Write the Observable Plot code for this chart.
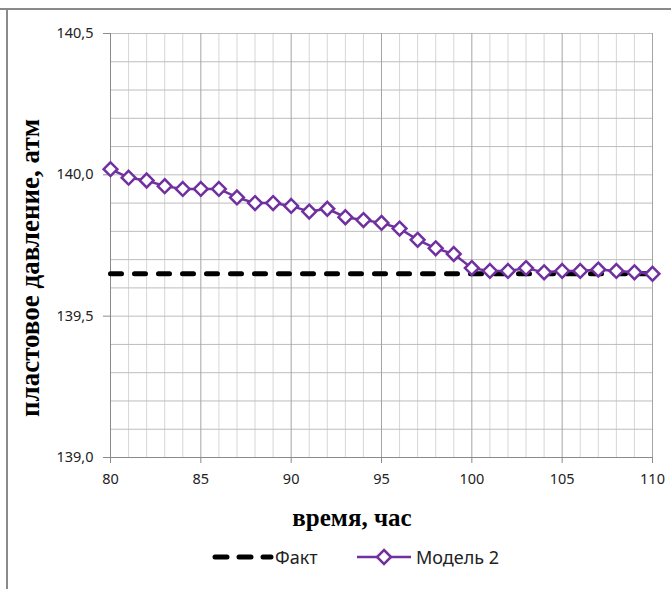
<!DOCTYPE html>
<html>
<head>
<meta charset="utf-8">
<script src="https://cdn.jsdelivr.net/npm/d3@7"></script>
<script src="https://cdn.jsdelivr.net/npm/@observablehq/plot@0.6"></script>
<style>
  html, body { margin: 0; padding: 0; background: #fff; }
  #wrap { position: relative; width: 671px; height: 589px; overflow: hidden; background: #fff; }
  #chart { position: absolute; left: 0; top: 0; }
  .bt { position: absolute; left: 0; top: 8px; width: 671px; height: 2px; background: #8a8a8a; }
  .bl { position: absolute; left: 6px; top: 8px; width: 2px; height: 581px; background: #8a8a8a; }
  .ttl { position: absolute; font-family: "Liberation Serif", serif; font-weight: bold; color: #000; white-space: nowrap; line-height: 1; }
  #xlab { left: 352px; top: 517px; font-size: 25px; transform: translate(-50%, -50%); }
  #ylab { left: 30px; top: 268px; font-size: 27px; transform: translate(-50%, -50%) rotate(-90deg); }
  #legend { position: absolute; top: 545px; left: 0; width: 671px; height: 26px; font-family: "Noto Sans", sans-serif; font-size: 18px; color: #222; }
  #legend svg { position: absolute; left: 0; top: 0; }
  #legend span { position: absolute; top: 0px; line-height: 24px; }
</style>
</head>
<body>
<div id="wrap">
  <div id="chart"></div>
  <div class="bt"></div>
  <div class="bl"></div>
  <div class="ttl" id="xlab"></div>
  <div class="ttl" id="ylab"></div>
  <div id="legend">
    <svg width="671" height="24">
      <line x1="215" y1="12" x2="271" y2="12" stroke="#000" stroke-width="5" stroke-dasharray="12,12" stroke-linecap="round"/>
      <line x1="357" y1="12" x2="411" y2="12" stroke="#7030A0" stroke-width="2.5"/>
      <path d="M384,5 L391,12 L384,19 L377,12 Z" fill="#fff" stroke="#7030A0" stroke-width="2.5"/>
    </svg>
    <span style="left:275px" id="lg1"></span>
    <span style="left:416px" id="lg2"></span>
  </div>
</div>
<script>
const hours = d3.range(80, 111);
const fakt = [139.65,139.65,139.65,139.65,139.65,139.65,139.65,139.65,139.65,139.65,139.65,139.65,139.65,139.65,139.65,139.65,139.65,139.65,139.65,139.65,139.65,139.65,139.65,139.65,139.65,139.65,139.65,139.65,139.65,139.65,139.65];
const model2 = [140.02,139.99,139.98,139.96,139.95,139.95,139.95,139.92,139.90,139.90,139.89,139.87,139.88,139.85,139.84,139.83,139.81,139.77,139.74,139.72,139.67,139.66,139.66,139.67,139.655,139.66,139.66,139.665,139.66,139.655,139.65];
const xTicks = [80, 85, 90, 95, 100, 105, 110];
const yTicks = [139.0, 139.5, 140.0, 140.5];
const seriesNames = ["Факт", "Модель 2"];
const xLabel = "время, час";
const yLabel = "пластовое давление, атм";

document.getElementById("xlab").textContent = xLabel;
document.getElementById("ylab").textContent = yLabel;
document.getElementById("lg1").textContent = seriesNames[0];
document.getElementById("lg2").textContent = seriesNames[1];

const faktData = hours.map((h, i) => ({h, v: fakt[i]}));
const modelData = hours.map((h, i) => ({h, v: model2[i]}));
const xMinor = d3.range(81, 110).filter(d => d % 5 !== 0);
const xMajor = xTicks;
const yGrid = d3.range(0, 16).map(i => +(139.0 + i * 0.1).toFixed(1));
const fmt = d => d.toFixed(1).replace(".", ",");

const chart = Plot.plot({
  width: 671,
  height: 540,
  marginLeft: 110,
  marginRight: 19,
  marginTop: 33,
  marginBottom: 83,
  style: {fontFamily: "'Noto Sans', sans-serif", fontSize: "14px", color: "#222", background: "transparent"},
  x: {domain: [80, 110]},
  y: {domain: [139.0, 140.5]},
  marks: [
    Plot.ruleX(xMinor, {stroke: "#d6d6d6", strokeWidth: 1}),
    Plot.ruleY(yGrid, {stroke: "#bdbdbd", strokeWidth: 1}),
    Plot.ruleX(xMajor, {stroke: "#a4a4a4", strokeWidth: 1}),
    Plot.axisX({ticks: xTicks, tickSize: 6, tickPadding: 10, stroke: "#8a8a8a", tickFormat: d => String(d), label: null, fontSize: 14.5}),
    Plot.axisY({ticks: yTicks, tickSize: 7, tickPadding: 10, stroke: "#8a8a8a", tickFormat: fmt, label: null, fontSize: 14.5}),
    Plot.ruleY([139.0], {stroke: "#8a8a8a", strokeWidth: 1}),
    Plot.ruleX([80], {stroke: "#8a8a8a", strokeWidth: 1}),
    Plot.line(faktData, {x: "h", y: "v", stroke: "#000", strokeWidth: 5, strokeDasharray: "11,13", strokeLinecap: "round"}),
    Plot.line(modelData, {x: "h", y: "v", stroke: "#7030A0", strokeWidth: 2.5}),
    Plot.dot(modelData, {x: "h", y: "v", symbol: "diamond2", r: 6.2, fill: "#fff", stroke: "#7030A0", strokeWidth: 2.5})
  ]
});
document.getElementById("chart").appendChild(chart);
</script>
</body>
</html>
